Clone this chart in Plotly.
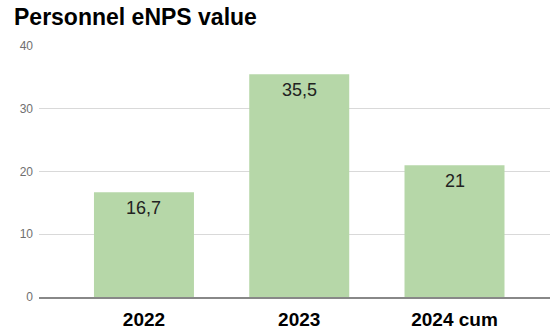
import plotly.graph_objects as go

# Personnel eNPS by period
periods = ["2022", "2023", "2024 cum"]
enps_values = [16.7, 35.5, 21]
y_ticks = [0, 10, 20, 30, 40]

# value labels use a decimal comma
value_labels = [f"{v:g}".replace(".", ",") for v in enps_values]

FONT = "Arial, Liberation Sans, sans-serif"

fig = go.Figure(
    go.Bar(
        x=periods,
        y=enps_values,
        marker=dict(color="#b6d7a8", line=dict(width=0)),
        hoverinfo="skip",
    )
)

# value labels sit just inside the top of each bar
# (category axis: annotations are placed by category index)
for i, (v, lbl) in enumerate(zip(enps_values, value_labels)):
    fig.add_annotation(
        x=i,
        y=v,
        text=lbl,
        showarrow=False,
        yanchor="middle",
        yshift=-16,
        font=dict(family=FONT, size=18, color="#222222"),
    )

fig.update_layout(
    width=551,
    height=331,
    margin=dict(l=39, r=1, t=46, b=31),
    paper_bgcolor="white",
    plot_bgcolor="white",
    bargap=0.356,
    showlegend=False,
    title=dict(
        text="<b>Personnel eNPS value</b>",
        font=dict(family=FONT, size=23, color="#000000"),
        x=14 / 551,
        xref="container",
        xanchor="left",
        y=1 - 17 / 331,
        yref="container",
        yanchor="middle",
    ),
)

fig.update_xaxes(
    type="category",
    range=[-0.676, 2.615],
    showgrid=False,
    showline=True,
    linecolor="#888888",
    linewidth=2,
    ticks="",
    tickfont=dict(family=FONT, size=19, color="#000000", weight="bold"),
    ticklabelstandoff=4,
)

fig.update_yaxes(
    range=[0, 40],
    tickvals=y_ticks,
    showgrid=True,
    gridcolor="#d9d9d9",
    gridwidth=1,
    zeroline=False,
    showline=False,
    ticks="",
    tickfont=dict(family=FONT, size=12, color="#6f6f6f"),
    ticklabelstandoff=5,
)

fig.write_html("out.html")
